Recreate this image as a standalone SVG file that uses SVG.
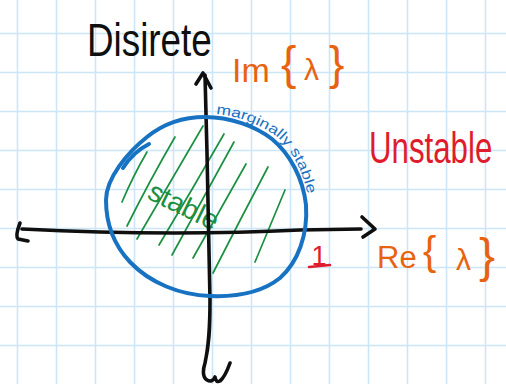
<svg xmlns="http://www.w3.org/2000/svg" width="506" height="384" viewBox="0 0 506 384">
  <style>
    .grid { stroke: #cce6f8; stroke-width: 1.6; fill: none; }
    .ink { fill: none; stroke-linecap: round; stroke-linejoin: round; }
    .black { stroke: #0f0f0f; stroke-width: 3.6; }
    .blue { stroke: #1872c2; stroke-width: 4; }
    .green { stroke: #1b9040; stroke-width: 1.7; }
    .txt { font-family: "Liberation Sans", Arial, sans-serif; }
    .orange { fill: #e8630f; }
    .red { fill: #e01b2c; }
  </style>
  <rect width="506" height="384" fill="#ffffff"/>
  <g id="grid">
    <path class="grid" d="M17.5 0V384M56.5 0V384M95.5 0V384M134.5 0V384M173.5 0V384M212.5 0V384M251.5 0V384M290.5 0V384M329.5 0V384M368.5 0V384M407.5 0V384M446.5 0V384M485.5 0V384M0 33.5H506M0 72.5H506M0 111.5H506M0 150.5H506M0 189.5H506M0 228.5H506M0 267.5H506M0 306.5H506M0 345.5H506"/>
  </g>
  <g id="stable-region">
    <g class="ink green">
      <path d="M122 202 Q133 176 147 152"/>
      <path d="M127 226 Q150 180 175 137"/>
      <path d="M137 239 Q170 182 203 126"/>
      <path d="M159 245 Q192 190 224 134"/>
      <path d="M172 255 Q203 198 234 142"/>
      <path d="M193 258 Q220 210 246 164"/>
      <path d="M213 273 Q240 220 268 167"/>
      <path d="M255 262 Q270 226 285 190"/>
    </g>
    <text class="txt" fill="#1b9040" font-size="28" transform="translate(146 198) rotate(26)">stable</text>
  </g>
  <g id="connectors">
    <path class="ink black" d="M22 229 C100 233 200 235 300 230 L361 229"/>
    <path class="ink black" d="M20 223 Q15 236 18 239 L28 241"/>
    <path class="ink black" d="M362 217 L375 229 L363 237"/>
    <path class="ink black" d="M205 75 C207 150 209 230 210 300 C210 330 209 345 205 363 Q201 376 207 380 Q212 383 215 377 Q216 383 220 381 Q225 377 230 363"/>
    <path class="ink black" d="M196 84 L203 73 L211 88"/>
  </g>
  <g id="unit-circle">
    <path class="ink blue" d="M205 117 C230 117 255 126 272 139 C290 154 303 178 306 205 C308 235 298 262 280 278 C260 294 235 297 210 296 C180 295 150 283 130 262 C113 244 106 222 106 200 C106 178 128 152 147 137 C163 124 183 117 205 117 Z"/>
    <path class="ink blue" d="M123 168 Q133 152 149 144"/>
    <path id="margPath" fill="none" d="M216 114 C240 116 262 126 276 136 C293 150 306 176 311 212"/>
    <text class="txt" fill="#1872c2" font-size="14"><textPath href="#margPath" textLength="132" lengthAdjust="spacingAndGlyphs">marginally stable</textPath></text>
  </g>
  <g id="labels">
    <text class="txt" fill="#0f0f0f" font-size="46" transform="translate(87 56) scale(0.8 1)">Disirete</text>
    <text class="txt orange" font-size="12"><tspan x="232" y="82" font-size="34">Im</tspan> <tspan x="281" y="79" font-size="46">{</tspan> <tspan x="304" y="80" font-size="30">λ</tspan> <tspan x="329" y="79" font-size="46">}</tspan></text>
    <text class="txt red" font-size="44" transform="translate(369 163) scale(0.71 1)">Unstable</text>
    <text class="txt orange" font-size="12"><tspan x="377" y="268" font-size="31">Re</tspan> <tspan x="423" y="265" font-size="40">{</tspan> <tspan x="456" y="270" font-size="30">λ</tspan> <tspan x="479" y="272" font-size="48">}</tspan></text>
    <text class="txt red" font-size="27" x="319" y="265" text-anchor="middle">1</text>
    <path class="ink" stroke="#e01b2c" stroke-width="2.6" d="M309 267 L330 265"/>
  </g>
</svg>
